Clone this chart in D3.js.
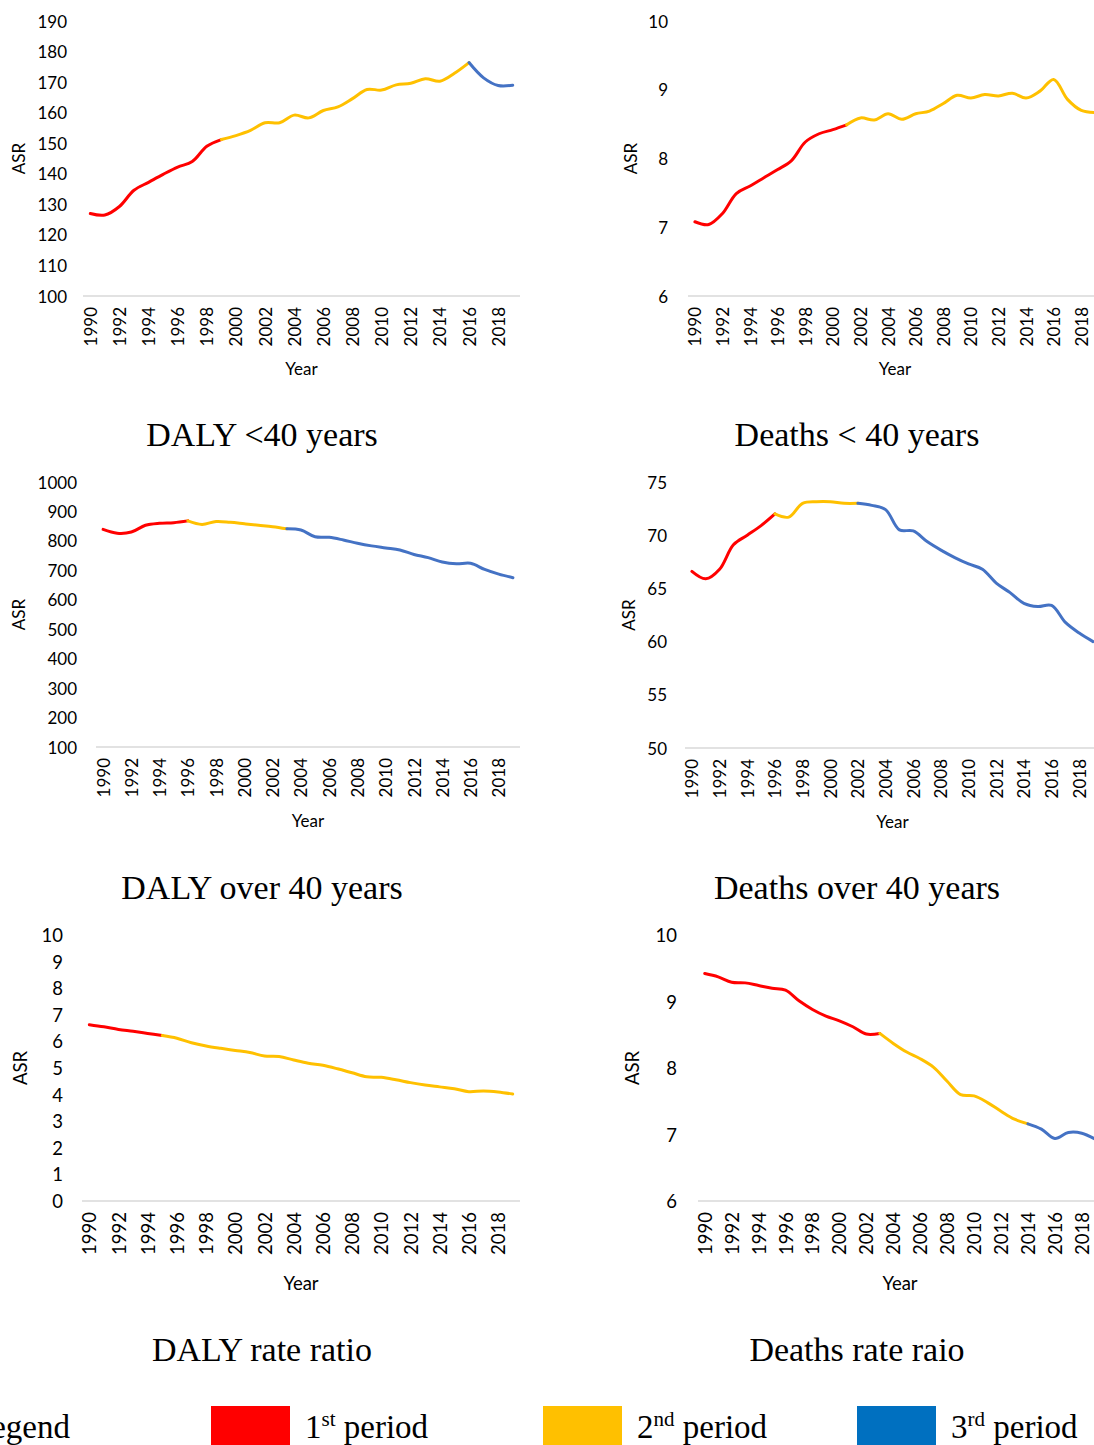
<!DOCTYPE html>
<html><head><meta charset="utf-8">
<script src="https://cdn.jsdelivr.net/npm/d3@7"></script>
<style>body{margin:0;background:#fff;overflow:hidden} svg{display:block}</style>
</head><body>
<svg id="c" width="1094" height="1445"></svg>
<script>
// ---------- DATA ----------
const years = [1990,1991,1992,1993,1994,1995,1996,1997,1998,1999,2000,2001,2002,2003,2004,2005,2006,2007,2008,2009,2010,2011,2012,2013,2014,2015,2016,2017,2018,2019];
const yearTickLabels = [1990,1992,1994,1996,1998,2000,2002,2004,2006,2008,2010,2012,2014,2016,2018];

const dalyUnder40 = [127.0,126.5,129.3,134.6,137.2,139.8,142.2,144.0,149.0,151.2,152.5,154.2,156.7,156.7,159.2,158.3,160.7,161.9,164.6,167.6,167.4,169.1,169.6,171.1,170.3,172.9,176.4,171.4,168.9,169.0];
const deathsUnder40 = [7.08,7.04,7.20,7.49,7.60,7.72,7.84,7.97,8.24,8.36,8.42,8.49,8.59,8.56,8.65,8.57,8.65,8.69,8.80,8.92,8.88,8.93,8.91,8.95,8.88,8.98,9.15,8.86,8.70,8.67];
const dalyOver40 = [839,826,830,853,860,862,868,856,866,863,858,853,848,841,837,814,812,803,792,783,776,769,754,743,728,722,724,703,687,675];
const deathsOver40 = [66.6,65.9,66.8,69.1,70.0,70.9,72.0,71.7,73.0,73.15,73.15,73.0,73.0,72.8,72.4,70.5,70.4,69.4,68.6,67.9,67.3,66.8,65.5,64.6,63.6,63.3,63.4,61.8,60.8,60.0];
const dalyRatio = [6.63,6.55,6.45,6.38,6.30,6.22,6.12,5.95,5.83,5.74,5.66,5.58,5.45,5.43,5.30,5.18,5.10,4.97,4.82,4.67,4.65,4.56,4.45,4.36,4.29,4.22,4.11,4.14,4.10,4.02];
const deathsRatio = [9.42,9.37,9.29,9.28,9.24,9.20,9.17,9.01,8.88,8.78,8.71,8.62,8.51,8.52,8.37,8.24,8.14,8.01,7.80,7.60,7.58,7.48,7.35,7.23,7.16,7.08,6.94,7.03,7.02,6.93];

// period break years: [end of 1st period, end of 2nd period]
const breaksDalyUnder40 = [1999, 2016];
const breaksDeathsUnder40 = [2001, 2019];
const breaksDalyOver40 = [1996, 2003];
const breaksDeathsOver40 = [1996, 2002];
const breaksDalyRatio = [1995, 2019];
const breaksDeathsRatio = [2003, 2014];

const ticksDalyUnder40 = [100,110,120,130,140,150,160,170,180,190];
const ticksDeathsUnder40 = [6,7,8,9,10];
const ticksDalyOver40 = [100,200,300,400,500,600,700,800,900,1000];
const ticksDeathsOver40 = [50,55,60,65,70,75];
const ticksDalyRatio = [0,1,2,3,4,5,6,7,8,9,10];
const ticksDeathsRatio = [6,7,8,9,10];

const titles = ["DALY <40 years","Deaths < 40 years","DALY over 40 years","Deaths over 40 years","DALY rate ratio","Deaths rate raio"];
const legendLabels = [["1","st"," period"],["2","nd"," period"],["3","rd"," period"]];
const periodLineColors = ["#FF0000","#FFC000","#4472C4"];
const legendColors = ["#FF0000","#FFC000","#0070C0"];

// ---------- LAYOUT ----------
const panels = [
  {title:titles[0], values:dalyUnder40, breaks:breaksDalyUnder40, ticks:ticksDalyUnder40, x0:83, x1:520, yTop:21, yBot:296, labelX:67, asrX:18, yearY:368, titleX:262, titleY:446, fs:17},
  {title:titles[1], values:deathsUnder40, breaks:breaksDeathsUnder40, ticks:ticksDeathsUnder40, x0:688, x1:1102, yTop:21, yBot:296, labelX:668, asrX:630, yearY:368, titleX:857, titleY:446, fs:17},
  {title:titles[2], values:dalyOver40, breaks:breaksDalyOver40, ticks:ticksDalyOver40, x0:96, x1:520, yTop:482, yBot:747, labelX:77, asrX:18, yearY:820, titleX:262, titleY:899, fs:17},
  {title:titles[3], values:deathsOver40, breaks:breaksDeathsOver40, ticks:ticksDeathsOver40, x0:685, x1:1100, yTop:482, yBot:748, labelX:667, asrX:628, yearY:821, titleX:857, titleY:899, fs:17},
  {title:titles[4], values:dalyRatio, breaks:breaksDalyRatio, ticks:ticksDalyRatio, x0:82, x1:520, yTop:935, yBot:1201, labelX:63, asrX:20, yearY:1283, titleX:262, titleY:1361, fs:18.5},
  {title:titles[5], values:deathsRatio, breaks:breaksDeathsRatio, ticks:ticksDeathsRatio, x0:698, x1:1102, yTop:935, yBot:1201, labelX:677, asrX:632, yearY:1283, titleX:857, titleY:1361, fs:18.5}
];

const svg = d3.select("#c");
const sansFont = "Lato, 'Open Sans', sans-serif";
const serifFont = "'Liberation Serif', 'Times New Roman', serif";

panels.forEach(p => {
  const g = svg.append("g");
  const x = d3.scalePoint().domain(years).range([p.x0, p.x1]).padding(0.5);
  const y = d3.scaleLinear().domain([d3.min(p.ticks), d3.max(p.ticks)]).range([p.yBot, p.yTop]);

  // baseline
  g.append("line").attr("x1", p.x0).attr("x2", p.x1).attr("y1", p.yBot).attr("y2", p.yBot)
    .attr("stroke", "#D9D9D9").attr("stroke-width", 1.5);

  // y tick labels
  g.selectAll(".yt").data(p.ticks).enter().append("text")
    .attr("x", p.labelX).attr("y", d => y(d)).attr("text-anchor", "end")
    .attr("dominant-baseline", "central").attr("font-family", sansFont)
    .attr("font-size", p.fs).attr("fill", "#000").text(d => d);

  // x tick labels (rotated)
  g.selectAll(".xt").data(yearTickLabels).enter().append("text")
    .attr("transform", d => `translate(${x(d)},${p.yBot + 11}) rotate(-90)`)
    .attr("text-anchor", "end").attr("dominant-baseline", "central")
    .attr("font-family", sansFont).attr("font-size", p.fs).attr("fill", "#000").text(d => d);

  // axis titles
  g.append("text").attr("transform", `translate(${p.asrX},${(p.yTop + p.yBot) / 2}) rotate(-90)`)
    .attr("text-anchor", "middle").attr("dominant-baseline", "central")
    .attr("font-family", sansFont).attr("font-size", p.fs).text("ASR");
  g.append("text").attr("x", (p.x0 + p.x1) / 2).attr("y", p.yearY)
    .attr("text-anchor", "middle").attr("dominant-baseline", "central")
    .attr("font-family", sansFont).attr("font-size", p.fs).text("Year");

  // line segments by period
  const pts = years.map((yr, i) => ({yr, v: p.values[i]}));
  const segs = [
    pts.filter(d => d.yr <= p.breaks[0]),
    pts.filter(d => d.yr >= p.breaks[0] && d.yr <= p.breaks[1]),
    pts.filter(d => d.yr >= p.breaks[1])
  ];
  const line = d3.line().x(d => x(d.yr)).y(d => y(d.v)).curve(d3.curveCatmullRom.alpha(0.5));
  segs.forEach((s, i) => {
    if (s.length < 2) return;
    g.append("path").attr("d", line(s)).attr("fill", "none")
      .attr("stroke", periodLineColors[i]).attr("stroke-width", 3)
      .attr("stroke-linecap", "round").attr("stroke-linejoin", "round");
  });

  // panel title
  svg.append("text").attr("x", p.titleX).attr("y", p.titleY).attr("text-anchor", "middle")
    .attr("font-family", serifFont).attr("font-size", 34).attr("fill", "#000").text(p.title);
});

// ---------- LEGEND ----------
const lg = svg.append("g");
lg.append("text").attr("x", 70).attr("y", 1438).attr("text-anchor", "end")
  .attr("font-family", serifFont).attr("font-size", 33).text("Legend");
const legendX = [211, 543, 857];
legendLabels.forEach((lab, i) => {
  lg.append("rect").attr("x", legendX[i]).attr("y", 1406).attr("width", 79).attr("height", 42)
    .attr("fill", legendColors[i]);
  const t = lg.append("text").attr("x", legendX[i] + 94).attr("y", 1438)
    .attr("font-family", serifFont).attr("font-size", 33);
  t.append("tspan").text(lab[0]);
  t.append("tspan").attr("font-size", 21).attr("dy", -12).text(lab[1]);
  t.append("tspan").attr("dy", 12).text(lab[2]);
});
</script>
</body></html>
